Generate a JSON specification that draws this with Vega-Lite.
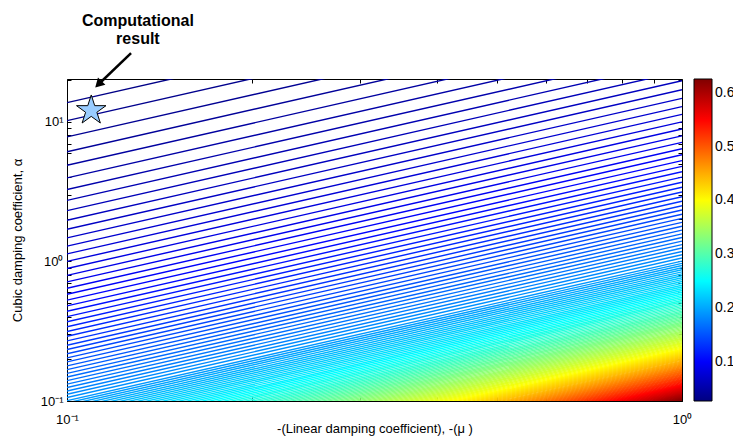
{
  "$schema": "https://vega.github.io/schema/vega-lite/v6.json",
  "width": 615,
  "height": 322,
  "autosize": {"type": "none"},
  "padding": {"left": 67, "top": 79, "right": 51, "bottom": 42},
  "background": "white",
  "config": {
    "view": {"stroke": "black", "strokeWidth": 1},
    "font": "Liberation Sans",
    "axis": {"labelFont": "Liberation Sans", "titleFont": "Liberation Sans", "labelColor": "black", "titleColor": "black", "tickColor": "black", "domain": false, "grid": false},
    "legend": {"labelFont": "Liberation Sans", "labelColor": "black"}
  },
  "datasets": {
    "contours": [
      {"v":0.0312,"lo":13.74,"hi":137.4},{"v":0.0348,"lo":10.21,"hi":102.1},{"v":0.0384,"lo":7.807,"hi":78.07},{"v":0.0420,"lo":6.116,"hi":61.16},
      {"v":0.0456,"lo":4.887,"hi":48.87},{"v":0.0492,"lo":3.972,"hi":39.72},{"v":0.0528,"lo":3.278,"hi":32.78},{"v":0.0564,"lo":2.737,"hi":27.37},
      {"v":0.0600,"lo":2.313,"hi":23.13},{"v":0.0636,"lo":1.973,"hi":19.73},{"v":0.0672,"lo":1.699,"hi":16.99},{"v":0.0708,"lo":1.474,"hi":14.74},
      {"v":0.0744,"lo":1.287,"hi":12.87},{"v":0.0780,"lo":1.132,"hi":11.32},{"v":0.0816,"lo":1.001,"hi":10.01},{"v":0.0852,"lo":0.8899,"hi":8.899},
      {"v":0.0888,"lo":0.7950,"hi":7.950},{"v":0.0924,"lo":0.7133,"hi":7.133},{"v":0.0960,"lo":0.6427,"hi":6.427},{"v":0.0996,"lo":0.5813,"hi":5.813},
      {"v":0.1032,"lo":0.5278,"hi":5.278},{"v":0.1068,"lo":0.4806,"hi":4.806},{"v":0.1104,"lo":0.4391,"hi":4.391},{"v":0.1140,"lo":0.4024,"hi":4.024},
      {"v":0.1176,"lo":0.3698,"hi":3.698},{"v":0.1212,"lo":0.3406,"hi":3.406},{"v":0.1248,"lo":0.3146,"hi":3.146},{"v":0.1284,"lo":0.2910,"hi":2.910},
      {"v":0.1320,"lo":0.2698,"hi":2.698},{"v":0.1356,"lo":0.2507,"hi":2.507},{"v":0.1392,"lo":0.2336,"hi":2.336},{"v":0.1428,"lo":0.2179,"hi":2.179},
      {"v":0.1464,"lo":0.2036,"hi":2.036},{"v":0.1500,"lo":0.1905,"hi":1.905},{"v":0.1536,"lo":0.1786,"hi":1.786},{"v":0.1572,"lo":0.1677,"hi":1.677},
      {"v":0.1608,"lo":0.1576,"hi":1.576},{"v":0.1644,"lo":0.1484,"hi":1.484},{"v":0.1680,"lo":0.1399,"hi":1.399},{"v":0.1716,"lo":0.1320,"hi":1.320},
      {"v":0.1752,"lo":0.1248,"hi":1.248},{"v":0.1788,"lo":0.1180,"hi":1.180},{"v":0.1824,"lo":0.1118,"hi":1.118},{"v":0.1860,"lo":0.1060,"hi":1.060},
      {"v":0.1896,"lo":0.1006,"hi":1.006},{"v":0.1932,"lo":0.09685,"hi":0.9685},{"v":0.1968,"lo":0.09346,"hi":0.9346},{"v":0.2004,"lo":0.09025,"hi":0.9025},
      {"v":0.2040,"lo":0.08719,"hi":0.8719},{"v":0.2076,"lo":0.08429,"hi":0.8429},{"v":0.2112,"lo":0.08154,"hi":0.8154},{"v":0.2148,"lo":0.07893,"hi":0.7893},
      {"v":0.2184,"lo":0.07644,"hi":0.7644},{"v":0.2220,"lo":0.07408,"hi":0.7408},{"v":0.2256,"lo":0.07182,"hi":0.7182},{"v":0.2292,"lo":0.06965,"hi":0.6965},
      {"v":0.2328,"lo":0.06757,"hi":0.6757},{"v":0.2364,"lo":0.06559,"hi":0.6559},{"v":0.2400,"lo":0.06370,"hi":0.6370},{"v":0.2436,"lo":0.06188,"hi":0.6188},
      {"v":0.2472,"lo":0.06019,"hi":0.6019},{"v":0.2508,"lo":0.05853,"hi":0.5853},{"v":0.2544,"lo":0.05693,"hi":0.5693},{"v":0.2580,"lo":0.05541,"hi":0.5541},
      {"v":0.2616,"lo":0.05395,"hi":0.5395},{"v":0.2652,"lo":0.05253,"hi":0.5253},{"v":0.2688,"lo":0.05120,"hi":0.5120},{"v":0.2724,"lo":0.04989,"hi":0.4989},
      {"v":0.2760,"lo":0.04864,"hi":0.4864},{"v":0.2796,"lo":0.04745,"hi":0.4745},{"v":0.2832,"lo":0.04628,"hi":0.4628},{"v":0.2868,"lo":0.04516,"hi":0.4516},
      {"v":0.2904,"lo":0.04409,"hi":0.4409},{"v":0.2940,"lo":0.04306,"hi":0.4306},{"v":0.2976,"lo":0.04205,"hi":0.4205},{"v":0.3012,"lo":0.04108,"hi":0.4108},
      {"v":0.3048,"lo":0.04016,"hi":0.4016},{"v":0.3084,"lo":0.03925,"hi":0.3925},{"v":0.3120,"lo":0.03837,"hi":0.3837},{"v":0.3156,"lo":0.03755,"hi":0.3755},
      {"v":0.3192,"lo":0.03672,"hi":0.3672},{"v":0.3228,"lo":0.03594,"hi":0.3594},{"v":0.3264,"lo":0.03518,"hi":0.3518},{"v":0.3300,"lo":0.03444,"hi":0.3444},
      {"v":0.3336,"lo":0.03373,"hi":0.3373},{"v":0.3372,"lo":0.03304,"hi":0.3304},{"v":0.3408,"lo":0.03236,"hi":0.3236},{"v":0.3444,"lo":0.03171,"hi":0.3171},
      {"v":0.3480,"lo":0.03108,"hi":0.3108},{"v":0.3516,"lo":0.03048,"hi":0.3048},{"v":0.3552,"lo":0.02988,"hi":0.2988},{"v":0.3588,"lo":0.02930,"hi":0.2930},
      {"v":0.3624,"lo":0.02874,"hi":0.2874},{"v":0.3660,"lo":0.02820,"hi":0.2820},{"v":0.3696,"lo":0.02768,"hi":0.2768},{"v":0.3732,"lo":0.02716,"hi":0.2716},
      {"v":0.3768,"lo":0.02666,"hi":0.2666},{"v":0.3804,"lo":0.02618,"hi":0.2618},{"v":0.3840,"lo":0.02570,"hi":0.2570},{"v":0.3876,"lo":0.02524,"hi":0.2524},
      {"v":0.3912,"lo":0.02479,"hi":0.2479},{"v":0.3948,"lo":0.02435,"hi":0.2435},{"v":0.3984,"lo":0.02393,"hi":0.2393},{"v":0.4020,"lo":0.02352,"hi":0.2352},
      {"v":0.4056,"lo":0.02312,"hi":0.2312},{"v":0.4092,"lo":0.02273,"hi":0.2273},{"v":0.4128,"lo":0.02235,"hi":0.2235},{"v":0.4164,"lo":0.02198,"hi":0.2198},
      {"v":0.4200,"lo":0.02163,"hi":0.2163},{"v":0.4236,"lo":0.02126,"hi":0.2126},{"v":0.4272,"lo":0.02093,"hi":0.2093},{"v":0.4308,"lo":0.02059,"hi":0.2059},
      {"v":0.4344,"lo":0.02026,"hi":0.2026},{"v":0.4380,"lo":0.01994,"hi":0.1994},{"v":0.4416,"lo":0.01963,"hi":0.1963},{"v":0.4452,"lo":0.01932,"hi":0.1932},
      {"v":0.4488,"lo":0.01903,"hi":0.1903},{"v":0.4524,"lo":0.01874,"hi":0.1874},{"v":0.4560,"lo":0.01844,"hi":0.1844},{"v":0.4596,"lo":0.01817,"hi":0.1817},
      {"v":0.4632,"lo":0.01789,"hi":0.1789},{"v":0.4668,"lo":0.01763,"hi":0.1763},{"v":0.4704,"lo":0.01737,"hi":0.1737},{"v":0.4740,"lo":0.01712,"hi":0.1712},
      {"v":0.4776,"lo":0.01687,"hi":0.1687},{"v":0.4812,"lo":0.01663,"hi":0.1663},{"v":0.4848,"lo":0.01639,"hi":0.1639},{"v":0.4884,"lo":0.01616,"hi":0.1616},
      {"v":0.4920,"lo":0.01593,"hi":0.1593},{"v":0.4956,"lo":0.01571,"hi":0.1571},{"v":0.4992,"lo":0.01549,"hi":0.1549},{"v":0.5028,"lo":0.01528,"hi":0.1528},
      {"v":0.5064,"lo":0.01507,"hi":0.1507},{"v":0.5100,"lo":0.01486,"hi":0.1486},{"v":0.5136,"lo":0.01467,"hi":0.1467},{"v":0.5172,"lo":0.01447,"hi":0.1447},
      {"v":0.5208,"lo":0.01427,"hi":0.1427},{"v":0.5244,"lo":0.01408,"hi":0.1408},{"v":0.5280,"lo":0.01390,"hi":0.1390},{"v":0.5316,"lo":0.01372,"hi":0.1372},
      {"v":0.5352,"lo":0.01354,"hi":0.1354},{"v":0.5388,"lo":0.01337,"hi":0.1337},{"v":0.5424,"lo":0.01319,"hi":0.1319},{"v":0.5460,"lo":0.01302,"hi":0.1302},
      {"v":0.5496,"lo":0.01286,"hi":0.1286},{"v":0.5532,"lo":0.01270,"hi":0.1270},{"v":0.5568,"lo":0.01254,"hi":0.1254},{"v":0.5604,"lo":0.01239,"hi":0.1239},
      {"v":0.5640,"lo":0.01224,"hi":0.1224},{"v":0.5676,"lo":0.01209,"hi":0.1209},{"v":0.5712,"lo":0.01194,"hi":0.1194},{"v":0.5748,"lo":0.01180,"hi":0.1180},
      {"v":0.5784,"lo":0.01166,"hi":0.1166},{"v":0.5820,"lo":0.01152,"hi":0.1152},{"v":0.5856,"lo":0.01138,"hi":0.1138},{"v":0.5892,"lo":0.01124,"hi":0.1124},
      {"v":0.5928,"lo":0.01111,"hi":0.1111},{"v":0.5964,"lo":0.01099,"hi":0.1099},{"v":0.6000,"lo":0.01086,"hi":0.1086},{"v":0.6036,"lo":0.01073,"hi":0.1073},
      {"v":0.6072,"lo":0.01061,"hi":0.1061},{"v":0.6108,"lo":0.01049,"hi":0.1049},{"v":0.6144,"lo":0.01037,"hi":0.1037},{"v":0.6180,"lo":0.01025,"hi":0.1025},
      {"v":0.6216,"lo":0.01014,"hi":0.1014},{"v":0.6252,"lo":0.01003,"hi":0.1003}
    ],
    "star": [{"mu": 0.1095, "alpha": 12.08}],
    "arrow": [{"mu1": 0.1271, "a1": 31.1, "mu2": 0.1131, "a2": 19.0}],
    "head": [{"mu": 0.1125, "alpha": 18.6}],
    "note": [{"mu": 0.1304, "alpha": 52.6, "label": "Computational"}, {"mu": 0.1304, "alpha": 39.2, "label": "result"}]
  },
  "layer": [
    {
      "data": {"name": "contours"},
      "mark": {"type": "rule", "clip": true, "strokeWidth": 1.4},
      "encoding": {
        "x": {"datum": 0.1, "type": "quantitative",
          "scale": {"type": "log", "domain": [0.1, 1], "nice": false},
          "axis": {"orient": "bottom", "values": [0.1,0.2,0.3,0.4,0.5,0.6,0.7,0.8,0.9,1],
            "labelExpr": "datum.value === 0.1 ? '10⁻¹' : datum.value === 1 ? '10⁰' : ''",
            "tickSize": -4, "labelPadding": 16, "labelFontSize": 13, "labelOverlap": false, "labelFlush": false,
            "title": "-(Linear damping coefficient), -(μ )", "titleFontSize": 13, "titleFontWeight": "normal", "titlePadding": -4}},
        "x2": {"datum": 1},
        "y": {"field": "lo", "type": "quantitative",
          "scale": {"type": "log", "domain": [0.1, 20.3], "nice": false},
          "axis": {"orient": "left", "values": [0.1,0.2,0.3,0.4,0.5,0.6,0.7,0.8,0.9,1,2,3,4,5,6,7,8,9,10,20],
            "labelExpr": "datum.value === 0.1 ? '10⁻¹' : datum.value === 1 ? '10⁰' : datum.value === 10 ? '10¹' : ''",
            "tickSize": -4, "labelPadding": 8, "labelFontSize": 13, "labelOverlap": false,
            "title": "Cubic damping coefficient,  α", "titleFontSize": 13, "titleFontWeight": "normal", "titlePadding": 16}},
        "y2": {"field": "hi"},
        "color": {"field": "v", "type": "quantitative",
          "scale": {"domain": [0.027, 0.626], "range": ["#000080","#0000ff","#0080ff","#00ffff","#80ff80","#ffff00","#ff8000","#ff0000","#800000"], "interpolate": "rgb", "nice": false, "zero": false},
          "legend": {"orient": "right", "offset": 11, "direction": "vertical", "gradientLength": 322, "gradientThickness": 18,
            "title": null, "values": [0.1,0.2,0.3,0.4,0.5,0.6], "labelFontSize": 14, "labelOffset": 3, "labelOverlap": false,
            "gradientStrokeColor": "black", "gradientStrokeWidth": 1, "padding": 0}}
      }
    },
    {
      "data": {"name": "star"},
      "mark": {"type": "point", "shape": "M0,-1L0.225,-0.309L0.951,-0.309L0.363,0.118L0.588,0.809L0,0.382L-0.588,0.809L-0.363,0.118L-0.951,-0.309L-0.225,-0.309Z", "filled": true, "fill": "#99ccff", "stroke": "black", "strokeWidth": 1, "size": 960, "opacity": 1},
      "encoding": {
        "x": {"field": "mu", "type": "quantitative", "axis": {"orient": "top", "values": [0.1,0.2,0.3,0.4,0.5,0.6,0.7,0.8,0.9,1], "labels": false, "tickSize": -4, "title": null}},
        "y": {"field": "alpha", "type": "quantitative", "axis": {"orient": "right", "values": [0.1,0.2,0.3,0.4,0.5,0.6,0.7,0.8,0.9,1,2,3,4,5,6,7,8,9,10,20], "labels": false, "tickSize": -4, "title": null}}
      }
    },
    {
      "data": {"name": "arrow"},
      "mark": {"type": "rule", "clip": false, "strokeWidth": 2.5, "color": "black"},
      "encoding": {
        "x": {"field": "mu1", "type": "quantitative", "axis": null},
        "y": {"field": "a1", "type": "quantitative", "axis": null},
        "x2": {"field": "mu2"},
        "y2": {"field": "a2"}
      }
    },
    {
      "data": {"name": "head"},
      "mark": {"type": "point", "shape": "triangle-up", "filled": true, "color": "black", "size": 110, "angle": 225, "opacity": 1},
      "encoding": {
        "x": {"field": "mu", "type": "quantitative", "axis": null},
        "y": {"field": "alpha", "type": "quantitative", "axis": null}
      }
    },
    {
      "data": {"name": "note"},
      "mark": {"type": "text", "fontSize": 16, "fontWeight": "bold", "font": "Liberation Sans", "align": "center", "baseline": "middle", "color": "black"},
      "encoding": {
        "x": {"field": "mu", "type": "quantitative", "axis": null},
        "y": {"field": "alpha", "type": "quantitative", "axis": null},
        "text": {"field": "label"}
      }
    }
  ],
  "resolve": {"axis": {"x": "independent", "y": "independent"}}
}
